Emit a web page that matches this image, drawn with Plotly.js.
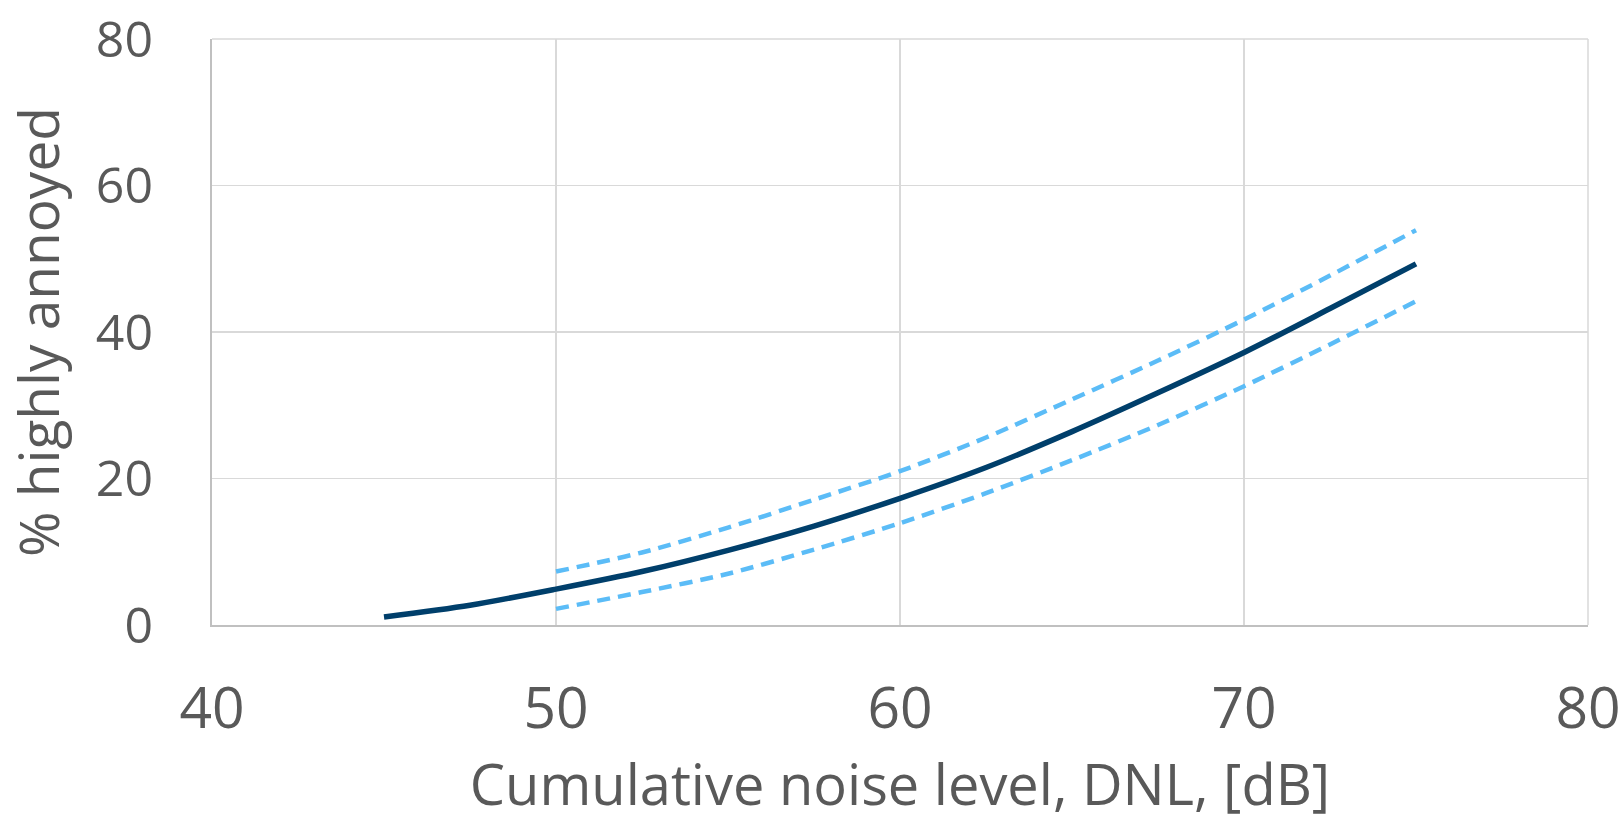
<!DOCTYPE html>
<html>
<head>
<meta charset="utf-8">
<script src="https://cdn.plot.ly/plotly-3.0.1.min.js"></script>
<style>html,body{margin:0;padding:0;background:#fff;}#chart{width:1624px;height:821px;}</style>
</head>
<body>
<div id="chart"></div>
<script>
// Data
const dnlMain = [45, 47.5, 50, 52.5, 55, 57.5, 60, 62.5, 65, 67.5, 70, 72.5, 75];
const haMain  = [1.1, 2.7, 4.9, 7.3, 10.2, 13.5, 17.3, 21.5, 26.4, 31.7, 37.2, 43.2, 49.3];
const dnlBand = [50, 52.5, 55, 57.5, 60, 62.5, 65, 67.5, 70, 72.5, 75];
const haUpper = [7.3, 9.9, 13.3, 17.1, 21.0, 25.6, 30.8, 36.1, 41.7, 47.7, 53.9];
const haLower = [2.2, 4.5, 7.0, 10.3, 13.9, 18.0, 22.5, 27.3, 32.6, 38.3, 44.2];
const xTicks = [40, 50, 60, 70, 80];
const yTicks = [0, 20, 40, 60, 80];

const fontFam = '"Open Sans", Lato, sans-serif';
const textColor = '#595959';

const traces = [
  {x: dnlBand, y: haUpper, mode: 'lines', line: {color: '#5bbcf7', width: 4.5, dash: '13px,8px', shape: 'spline', smoothing: 0.8}, hoverinfo: 'skip'},
  {x: dnlBand, y: haLower, mode: 'lines', line: {color: '#5bbcf7', width: 4.5, dash: '13px,8px', shape: 'spline', smoothing: 0.8}, hoverinfo: 'skip'},
  {x: dnlMain, y: haMain, mode: 'lines', line: {color: '#003f6b', width: 5.5, shape: 'spline', smoothing: 0.8}, hoverinfo: 'skip'}
];

const layout = {
  width: 1624, height: 821,
  margin: {l: 212, r: 36, t: 39, b: 196},
  paper_bgcolor: '#fff', plot_bgcolor: '#fff',
  showlegend: false,
  font: {family: fontFam, color: textColor},
  xaxis: {
    range: [40, 80], tickvals: xTicks, ticktext: xTicks.map(String),
    showgrid: true, gridcolor: '#d9d9d9', gridwidth: 1.5,
    showline: true, linecolor: '#c0c0c0', linewidth: 2,
    zeroline: false, ticks: '', ticklabelstandoff: 33, ticklabeloverflow: 'allow',
    tickfont: {size: 57, color: textColor, family: fontFam},
    title: {text: 'Cumulative noise level, DNL, [dB]', font: {size: 56, color: textColor, family: fontFam}, standoff: 21}
  },
  yaxis: {
    range: [0, 80], tickvals: yTicks, ticktext: yTicks.map(String),
    showgrid: true, gridcolor: '#d9d9d9', gridwidth: 1.5,
    showline: true, linecolor: '#c0c0c0', linewidth: 2,
    zeroline: false, ticks: '', ticklabelstandoff: 47, ticklabeloverflow: 'allow',
    tickfont: {size: 50, color: textColor, family: fontFam},
    title: {text: '% highly annoyed', font: {size: 55, color: textColor, family: fontFam}, standoff: 20}
  },
  shapes: [
    {type: 'line', xref: 'paper', yref: 'paper', x0: 0, x1: 1, y0: 1, y1: 1, line: {color: '#d9d9d9', width: 1.5}},
    {type: 'line', xref: 'paper', yref: 'paper', x0: 1, x1: 1, y0: 0, y1: 1, line: {color: '#d9d9d9', width: 1.5}}
  ]
};

Plotly.newPlot('chart', traces, layout, {staticPlot: true, displayModeBar: false});
</script>
</body>
</html>
